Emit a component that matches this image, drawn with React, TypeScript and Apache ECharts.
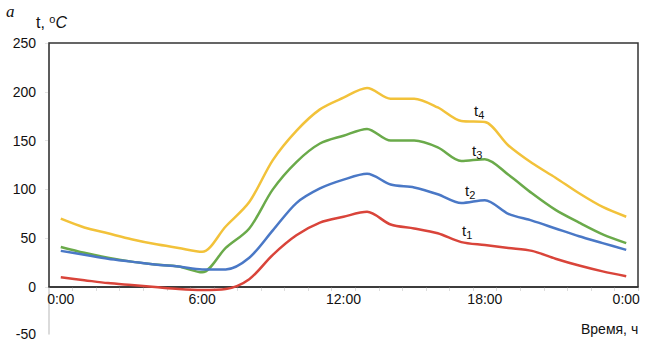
import React, { useEffect, useRef } from "react";
import * as echarts from "echarts";

const hours = ["0:00","1:00","2:00","3:00","4:00","5:00","6:00","7:00","8:00","9:00","10:00","11:00","12:00","13:00","14:00","15:00","16:00","17:00","18:00","19:00","20:00","21:00","22:00","23:00","24:00"];
const t4 = [70, 61, 55, 49, 44, 40, 36, 62, 87, 130, 160, 182, 194, 204, 193, 193, 184, 170, 169, 145, 127, 112, 96, 82, 72];
const t3 = [41, 35, 30, 26, 23, 21, 15, 40, 60, 100, 128, 147, 155, 162, 150, 150, 143, 129, 131, 115, 96, 79, 66, 54, 45];
const t2 = [37, 33, 29, 26, 23, 21, 18, 18, 30, 58, 86, 101, 110, 116, 105, 102, 95, 86, 89, 75, 68, 60, 52, 45, 38];
const t1 = [10, 7, 4, 2, 0, -2, -3, -2, 8, 33, 53, 66, 72, 77, 64, 60, 55, 46, 43, 40, 37, 29, 22, 16, 11];
const yMain = { min: 0, max: 250, interval: 50 };
const yFull = { min: -50, max: 250, interval: 50 };

const FONT = "Liberation Sans, Arial, sans-serif";

export default function App() {
  const ref = useRef<HTMLDivElement>(null);
  useEffect(() => {
    const chart = echarts.init(ref.current!, undefined, { renderer: "svg" });
    const line = (name: string, data: number[], color: string) => ({
      name,
      type: "line",
      data,
      xAxisIndex: 0,
      yAxisIndex: 0,
      smooth: 0.3,
      showSymbol: false,
      clip: false,
      lineStyle: { color, width: 2.5 },
      itemStyle: { color },
      z: 3,
    });
    const lbl = (x: number, y: number, n: string) => ({
      type: "text",
      left: x,
      top: y,
      z: 10,
      style: {
        text: `{t|t}{s|${n}}`,
        rich: {
          t: { fontSize: 15, fontFamily: FONT, fill: "#111" },
          s: { fontSize: 11, fontFamily: FONT, fill: "#111", padding: [8, 0, 0, 0] },
        },
      },
    });
    chart.setOption({
      animation: false,
      backgroundColor: "#fff",
      grid: [
        { left: 49, right: 8, top: 43, bottom: 52, show: true, borderColor: "#333", borderWidth: 1.5, backgroundColor: "transparent", containLabel: false, outerBoundsMode: "none", z: 2 },
        { left: 49, right: 8, top: 43, bottom: 5, show: false, containLabel: false, outerBoundsMode: "none" },
      ],
      xAxis: [
        {
          gridIndex: 0,
          type: "category",
          data: hours,
          boundaryGap: true,
          axisLine: { show: true, lineStyle: { color: "#222", width: 1.5 } },
          axisTick: { show: true, interval: 0, length: 4, lineStyle: { color: "#ddd" } },
          axisLabel: {
            interval: (i: number) => i % 6 === 0,
            formatter: (v: string) => (v === "24:00" ? "0:00" : v),
            fontSize: 14,
            fontFamily: FONT,
            color: "#111",
            margin: 5,
          },
          splitLine: { show: false },
        },
        {
          gridIndex: 1,
          type: "category",
          data: hours,
          show: false,
        },
      ],
      yAxis: [
        {
          gridIndex: 0,
          type: "value",
          min: yMain.min,
          max: yMain.max,
          interval: yMain.interval,
          axisLine: { show: false },
          axisTick: { show: true, length: 4, lineStyle: { color: "#e4e4e4" } },
          axisLabel: { fontSize: 14, fontFamily: FONT, color: "#111", margin: 13 },
          splitLine: { show: false },
        },
        {
          gridIndex: 1,
          type: "value",
          min: yFull.min,
          max: yFull.max,
          interval: yFull.interval,
          axisLine: { show: true, lineStyle: { color: "#cfcfcf", width: 1.5 } },
          axisTick: { show: false },
          axisLabel: {
            fontSize: 14,
            fontFamily: FONT,
            color: "#111",
            margin: 13,
            formatter: (v: number) => (v < 0 ? String(v) : ""),
          },
          splitLine: { show: false },
        },
      ],
      series: [
        line("t4", t4, "#f2c23a"),
        line("t3", t3, "#6aaa4a"),
        line("t2", t2, "#4a78c6"),
        line("t1", t1, "#d9443a"),
      ],
      graphic: [
        {
          type: "text",
          left: 6,
          top: 3,
          style: { text: "a", fontSize: 17, fontStyle: "italic", fontFamily: "Liberation Serif, Times New Roman, serif", fill: "#111" },
        },
        {
          type: "text",
          left: 36,
          top: 13,
          style: {
            text: "{a|t, }{o|o}{c|C}",
            rich: {
              a: { fontSize: 16, fontFamily: FONT, fill: "#111" },
              o: { fontSize: 11, fontFamily: FONT, fill: "#111", padding: [0, 0, 8, 0] },
              c: { fontSize: 16, fontFamily: FONT, fontStyle: "italic", fill: "#111" },
            },
          },
        },
        {
          type: "text",
          left: 581,
          top: 322,
          style: { text: "Время, ч", fontSize: 14, fontFamily: FONT, fill: "#111" },
        },
        lbl(474, 103, "4"),
        lbl(472, 143, "3"),
        lbl(465, 183, "2"),
        lbl(462, 223, "1"),
      ],
    });
    return () => chart.dispose();
  }, []);
  return <div ref={ref} style={{ width: 646, height: 339, position: "absolute", left: 0, top: 0 }} />;
}
